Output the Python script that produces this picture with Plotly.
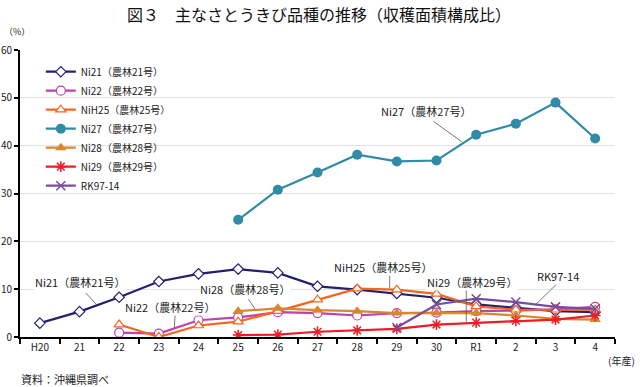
import plotly.graph_objects as go

categories = ["H20", "21", "22", "23", "24", "25", "26", "27", "28", "29", "30", "R1", "2", "3", "4"]

ni21 = [2.9, 5.3, 8.3, 11.6, 13.2, 14.2, 13.4, 10.6, 9.9, 9.1, 8.2, 6.8, 6.1, 5.4, 5.2]
ni22 = [None, None, 0.9, 0.7, 3.5, 4.1, 5.2, 5.0, 4.5, 5.0, 5.1, 5.4, 5.5, 5.8, 6.3]
nih25 = [None, None, 2.6, 0.0, 2.4, 3.2, 5.4, 7.8, 10.1, 9.9, 9.0, 6.4, 5.7, 5.7, 5.7]
ni27 = [None, None, None, None, None, 24.5, 30.8, 34.4, 38.1, 36.7, 36.9, 42.3, 44.6, 49.0, 41.5]
ni28 = [None, None, None, None, None, 5.4, 6.0, 5.6, 5.4, 5.0, 5.0, 5.0, 4.5, 3.8, 3.65]
ni29 = [None, None, None, None, None, 0.4, 0.5, 1.1, 1.4, 1.7, 2.6, 3.0, 3.4, 3.65, 4.5]
rk9714 = [None, None, None, None, None, None, None, None, None, 2.0, 6.8, 8.0, 7.3, 6.3, 5.9]

series_names = ["Ni21（農林21号）", "Ni22（農林22号）", "NiH25（農林25号）", "Ni27（農林27号）",
                "Ni28（農林28号）", "Ni29（農林29号）", "RK97-14"]

FONT = "Noto Sans CJK JP, Noto Sans, sans-serif"

styles = [
    dict(color="#24206e", symbol="diamond", fill="white", size=8, lw=1.2),
    dict(color="#c13fae", symbol="circle", fill="white", size=9, lw=1.2),
    dict(color="#f5651c", symbol="triangle-up", fill="white", size=9, lw=1.2),
    dict(color="#2f8ba6", symbol="circle", fill="#2f8ba6", size=10, lw=0),
    dict(color="#d9862e", symbol="triangle-up", fill="#d9862e", size=10, lw=0),
    dict(color="#ee1c25", symbol="asterisk-open", fill="#ee1c25", size=9, lw=1.5),
    dict(color="#774e9c", symbol="x-thin-open", fill="#774e9c", size=9, lw=1.5),
]

data = [ni21, ni22, nih25, ni27, ni28, ni29, rk9714]

fig = go.Figure()
for name, vals, st in zip(series_names, data, styles):
    if st["symbol"].endswith("-open"):
        marker = dict(symbol=st["symbol"], size=st["size"], color=st["color"],
                      line=dict(color=st["color"], width=st["lw"]))
    else:
        marker = dict(symbol=st["symbol"], size=st["size"], color=st["fill"],
                      line=dict(color=st["color"], width=st["lw"]))
    fig.add_trace(go.Scatter(
        x=categories, y=vals, name=name, mode="lines+markers",
        line=dict(color=st["color"], width=2.2),
        marker=marker, connectgaps=False,
    ))

# labels with leader lines: (text, label x, label y, line x0, y0, x1, y1)
labels = [
    ("Ni21（農林21号）", 1.01, 11.5, 1.16, 9.2, 1.44, 6.7),
    ("Ni22（農林22号）", 3.28, 6.33, 3.41, 4.6, 3.39, 1.9),
    ("Ni28（農林28号）", 5.17, 9.97, 5.26, 7.9, 5.43, 5.8),
    ("Ni27（農林27号）", 9.74, 47.3, 9.92, 45.1, 10.64, 40.8),
    ("NiH25（農林25号）", 8.66, 14.7, 8.82, 13.0, 8.82, 10.2),
    ("Ni29（農林29号）", 10.9, 11.4, 10.75, 10.2, 10.75, 3.2),
    ("RK97-14", 13.07, 12.75, 13.12, 11.8, 12.49, 6.7),
]
for txt, lx, ly, x0, y0, x1, y1 in labels:
    fig.add_shape(type="line", x0=x0, y0=y0, x1=x1, y1=y1, xref="x", yref="y",
                  line=dict(color="#555555", width=0.8))
    fig.add_annotation(x=lx, y=ly, xref="x", yref="y", text=txt, showarrow=False,
                       font=dict(family=FONT, size=11, color="#222222"),
                       bgcolor="white", borderpad=0)

W, H = 640, 387
ML, MR, MT, MB = 20, 25, 50, 50
PW, PH = W - ML - MR, H - MT - MB


def px_x(x):
    return (x - ML) / PW


def px_y(y):
    return (H - MB - y) / PH


fig.add_annotation(x=px_x(319), y=px_y(14), xref="paper", yref="paper", xanchor="center", yanchor="middle",
                   text="図３　主なさとうきび品種の推移（収穫面積構成比）", showarrow=False,
                   font=dict(family=FONT, size=16, color="#111111"))
fig.add_annotation(x=px_x(2), y=px_y(31), xref="paper", yref="paper", xanchor="left", yanchor="middle",
                   text="（%）", showarrow=False, font=dict(family=FONT, size=9, color="#222222"))
fig.add_annotation(x=px_x(637), y=px_y(360), xref="paper", yref="paper", xanchor="right", yanchor="middle",
                   text="(年産)", showarrow=False, font=dict(family=FONT, size=10, color="#222222"))
fig.add_annotation(x=px_x(19), y=px_y(379), xref="paper", yref="paper", xanchor="left", yanchor="middle",
                   text="資料：沖縄県調べ", showarrow=False, font=dict(family=FONT, size=11, color="#222222"))

fig.update_layout(
    width=W, height=H,
    margin=dict(l=ML, r=MR, t=MT, b=MB, autoexpand=False),
    paper_bgcolor="white", plot_bgcolor="white",
    font=dict(family=FONT, size=10, color="#222222"),
    showlegend=True,
    legend=dict(x=0.035, y=0.975, xanchor="left", yanchor="top",
                bgcolor="rgba(0,0,0,0)", font=dict(family=FONT, size=10),
                itemwidth=30, tracegroupgap=0),
    xaxis=dict(type="category", categoryarray=categories, range=[-0.5, 14.5], automargin=False,
               showgrid=False, showline=True, linecolor="black", linewidth=2,
               ticks="outside", tickson="boundaries", ticklen=5, tickcolor="black", tickwidth=1.5,
               tickfont=dict(family=FONT, size=10, color="#222222"), fixedrange=True),
    yaxis=dict(range=[0, 60], dtick=10, showgrid=True, gridcolor="#e3e3e3", gridwidth=1, automargin=False,
               showline=True, linecolor="black", linewidth=2, zeroline=False,
               ticks="outside", ticklen=4, tickcolor="black", tickwidth=1.5,
               tickfont=dict(family=FONT, size=10, color="#222222"), fixedrange=True),
)

fig.write_html("out.html", config={"displayModeBar": False},
               post_script="document.body.style.margin='0';")
